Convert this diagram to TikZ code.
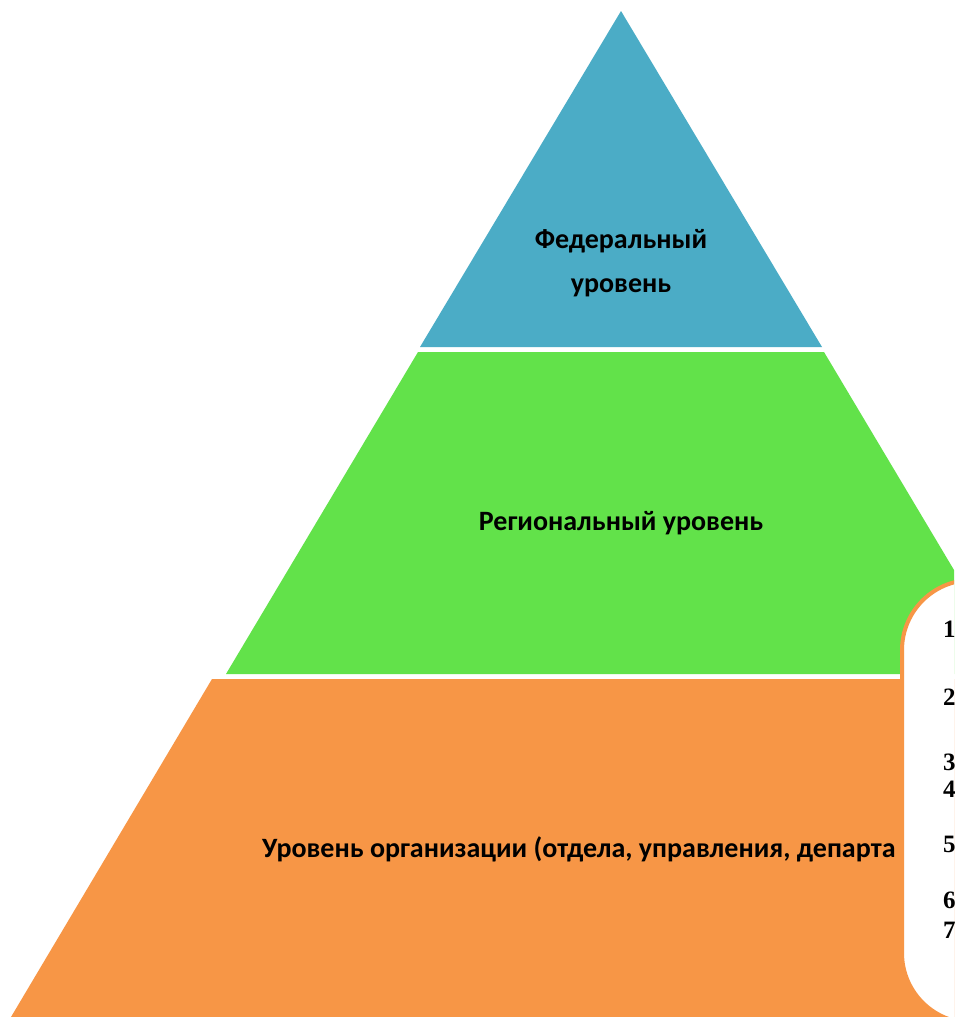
\documentclass[tikz,border=0pt]{standalone}
\usepackage{fontspec}
\setmainfont{Carlito}
\newfontfamily\numfont{Liberation Serif}
\definecolor{fedblue}{RGB}{75,172,198}
\definecolor{reggreen}{RGB}{98,226,74}
\definecolor{orgorange}{RGB}{247,150,70}
\tikzset{
  lvltext/.style={font=\bfseries\fontsize{28}{33}\selectfont, text=black, inner sep=0pt, anchor=base},
  numtext/.style={font=\numfont\bfseries\fontsize{25}{30}\selectfont, text=black, inner sep=0pt, anchor=base west}
}
\begin{document}
\begin{tikzpicture}[x=1pt,y=-1pt]
\useasboundingbox (0,0) rectangle (954,1017);
\clip (0,0) rectangle (954,1017);
\fill[white] (0,0) rectangle (954,1017);
% pyramid layers
\fill[fedblue] (621,11) -- (822,347) -- (420,347) -- cycle;
\fill[reggreen] (418,352) -- (824,352) -- (1016,674) -- (226,674) -- cycle;
\fill[orgorange] (212,679) -- (1030,679) -- (1231,1017) -- (11,1017) -- cycle;
% level labels
\node[lvltext] (fed1) at (621,248) {Федеральный};
\node[lvltext] (fed2) at (621,292) {уровень};
\node[lvltext] (reg) at (621,530) {Региональный уровень};
\node[lvltext, anchor=base west] (org) at (262,857) {Уровень организации (отдела, управления, департа};
% callout box
\draw[orgorange, line width=4pt, fill=white, rounded corners=70pt] (902,580) rectangle (1200,1023);
\node[numtext] (n1) at (943,637) {1};
\node[numtext] (n2) at (943,705) {2};
\node[numtext] (n3) at (943,770) {3};
\node[numtext] (n4) at (943,797) {4};
\node[numtext] (n5) at (943,852) {5};
\node[numtext] (n6) at (943,908) {6};
\node[numtext] (n7) at (943,938) {7};
\end{tikzpicture}
\end{document}
